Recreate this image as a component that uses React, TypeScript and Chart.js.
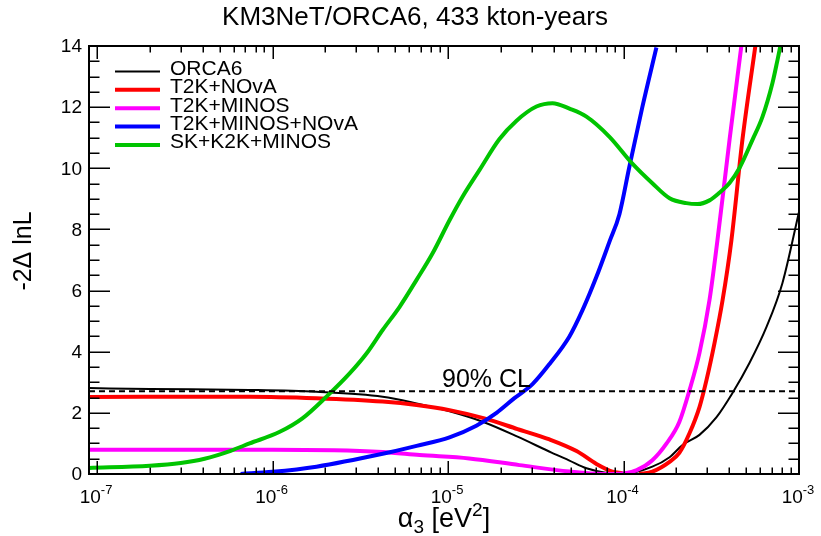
import React, { useEffect, useRef } from "react";
import { Chart, registerables } from "chart.js";
Chart.register(...registerables);

const FONT = '"Liberation Sans", Arial, Helvetica, sans-serif';

const TITLE = "KM3NeT/ORCA6, 433 kton-years";
const Y_TITLE = "-2\u0394 lnL";
const CL_LABEL = "90% CL";
const X_MIN = 9e-8;
const X_MAX = 1e-3;
const Y_MIN = 0;
const Y_MAX = 14;
const CL90 = 2.71;

const X_MAJOR_TICKS = [1e-7, 1e-6, 1e-5, 1e-4, 1e-3];
const X_TICK_EXPONENTS = ["-7", "-6", "-5", "-4", "-3"];
const X_MINOR_MULTIPLIERS = [2, 3, 4, 5, 6, 7, 8, 9];
const Y_MAJOR_TICKS = [0, 2, 4, 6, 8, 10, 12, 14];
const Y_TICK_LABELS = ["0", "2", "4", "6", "8", "10", "12", "14"];
const Y_MINOR_STEP = 0.5;

const SERIES_LABELS = ["ORCA6", "T2K+NOvA", "T2K+MINOS", "T2K+MINOS+NOvA", "SK+K2K+MINOS"];

const ORCA6_X = [9.0e-8, 2.0e-7, 7.4e-7, 1.78e-6, 4.24e-6, 6.62e-6, 1.02e-5, 1.59e-5, 2.49e-5, 3.89e-5, 4.92e-5, 6.15e-5, 8.32e-5, 1.0e-4, 1.46e-4, 1.83e-4, 2.17e-4, 2.71e-4, 3.39e-4, 4.18e-4, 5.22e-4, 6.53e-4, 8.05e-4, 1.0e-3];
const ORCA6_Y = [2.81, 2.78, 2.75, 2.69, 2.53, 2.31, 2.05, 1.70, 1.22, 0.70, 0.44, 0.19, 0.02, 0.0, 0.24, 0.55, 0.95, 1.28, 1.86, 2.65, 3.63, 4.81, 6.25, 8.57];

const T2K_NOVA_X = [9.0e-8, 7.4e-7, 1.78e-6, 4.24e-6, 6.62e-6, 1.02e-5, 1.61e-5, 2.49e-5, 3.79e-5, 5.4e-5, 7.01e-5, 8.65e-5, 9.86e-5, 1.1e-4, 1.23e-4, 1.46e-4, 1.83e-4, 2.08e-4, 2.38e-4, 2.71e-4, 2.97e-4, 3.3e-4, 3.67e-4, 4.12e-4, 4.76e-4, 5.65e-4];
const T2K_NOVA_Y = [2.52, 2.53, 2.48, 2.37, 2.26, 2.09, 1.82, 1.47, 1.13, 0.75, 0.33, 0.08, 0.03, null, 0.0, 0.08, 0.40, 0.69, 1.34, 2.19, 3.07, 4.28, 5.69, 7.65, 10.93, 14.03];

const T2K_MINOS_X = [9.0e-8, 1.0e-6, 4.24e-6, 6.89e-6, 1.32e-5, 2.55e-5, 4.92e-5, 7.58e-5, 8.89e-5, 1.19e-4, 1.46e-4, 1.76e-4, 2.08e-4, 2.38e-4, 2.71e-4, 3.09e-4, 3.43e-4, 4.02e-4, 4.7e-4];
const T2K_MINOS_Y = [0.79, 0.79, 0.72, 0.62, 0.51, 0.29, 0.08, 0.0, 0.0, 0.13, 0.45, 1.0, 1.7, 2.75, 3.96, 5.69, 7.65, 10.93, 14.03];

const T2K_MINOS_NOVA_X = [6.58e-7, 1.0e-6, 1.78e-6, 4.24e-6, 6.62e-6, 1.02e-5, 1.45e-5, 1.89e-5, 2.39e-5, 3.03e-5, 3.79e-5, 4.92e-5, 5.83e-5, 7.01e-5, 8.32e-5, 9.48e-5, 1.08e-4, 1.28e-4, 1.54e-4];
const T2K_MINOS_NOVA_Y = [0.0, 0.07, 0.24, 0.66, 0.92, 1.2, 1.58, 2.0, 2.48, 2.94, 3.6, 4.5, 5.35, 6.45, 7.6, 8.5, 10.05, 12.0, 13.95];

const SK_K2K_MINOS_X = [9.0e-8, 2.0e-7, 3.0e-7, 4.1e-7, 5.77e-7, 7.4e-7, 1.1e-6, 1.48e-6, 2.03e-6, 2.75e-6, 3.44e-6, 4.24e-6, 5.3e-6, 6.62e-6, 8.17e-6, 1.02e-5, 1.21e-5, 1.51e-5, 1.96e-5, 2.45e-5, 3.19e-5, 3.94e-5, 4.92e-5, 6.15e-5, 8.32e-5, 1.12e-4, 1.46e-4, 1.83e-4, 2.28e-4, 2.64e-4, 3.09e-4, 3.52e-4, 4.02e-4, 4.58e-4, 5.43e-4, 6.19e-4, 7.06e-4, 7.54e-4, 7.85e-4];
const SK_K2K_MINOS_Y = [0.20, 0.27, 0.36, 0.50, 0.76, 1.00, 1.38, 1.82, 2.53, 3.29, 3.95, 4.71, 5.47, 6.35, 7.22, 8.30, 9.07, 9.94, 10.95, 11.55, 12.02, 12.13, 11.95, 11.69, 11.03, 10.16, 9.51, 9.02, 8.86, 8.83, 8.95, 9.20, 9.52, 10.01, 10.93, 11.68, 12.79, 13.54, 14.03];

const SERIES_X = [ORCA6_X, T2K_NOVA_X, T2K_MINOS_X, T2K_MINOS_NOVA_X, SK_K2K_MINOS_X];
const SERIES_Y = [ORCA6_Y, T2K_NOVA_Y, T2K_MINOS_Y, T2K_MINOS_NOVA_Y, SK_K2K_MINOS_Y];
const SERIES_COLORS = ["#000000", "#ff0000", "#ff00ff", "#0000ff", "#00c400"];
const SERIES_WIDTHS = [2, 4, 4, 4, 4];

const rootStyle = {
  id: "rootStyle",
  afterDraw(chart: any) {
    const { ctx, chartArea: a, scales } = chart;
    const xs = scales.x;
    const ys = scales.y;
    ctx.save();

    // ticks
    ctx.strokeStyle = "#000";
    ctx.lineWidth = 1.5;
    ctx.beginPath();
    const xTick = (v: number, len: number) => {
      const px = Math.round(xs.getPixelForValue(v)) + 0.25;
      ctx.moveTo(px, a.bottom);
      ctx.lineTo(px, a.bottom - len);
      ctx.moveTo(px, a.top);
      ctx.lineTo(px, a.top + len);
    };
    X_MAJOR_TICKS.forEach((v, i) => {
      xTick(v, 13);
      if (i < X_MAJOR_TICKS.length - 1) {
        X_MINOR_MULTIPLIERS.forEach((m) => xTick(v * m, 6.5));
      }
    });
    for (let v = Y_MIN; v <= Y_MAX + 1e-9; v += Y_MINOR_STEP) {
      const major = Y_MAJOR_TICKS.includes(v);
      const len = major ? 21 : 10.5;
      const py = Math.round(ys.getPixelForValue(v)) + 0.25;
      ctx.moveTo(a.left, py);
      ctx.lineTo(a.left + len, py);
      ctx.moveTo(a.right, py);
      ctx.lineTo(a.right - len, py);
    }
    ctx.stroke();

    // frame
    ctx.lineWidth = 2;
    ctx.strokeRect(a.left, a.top, a.right - a.left, a.bottom - a.top);

    ctx.fillStyle = "#000";
    // y tick labels
    ctx.font = `19px ${FONT}`;
    ctx.textAlign = "right";
    ctx.textBaseline = "middle";
    Y_MAJOR_TICKS.forEach((v, i) => {
      ctx.fillText(Y_TICK_LABELS[i], a.left - 7, ys.getPixelForValue(v) + 1);
    });

    // x tick labels 10^n
    ctx.textAlign = "left";
    ctx.textBaseline = "alphabetic";
    X_MAJOR_TICKS.forEach((v, i) => {
      const px = xs.getPixelForValue(v);
      ctx.font = `19px ${FONT}`;
      const w1 = ctx.measureText("10").width;
      ctx.font = `13px ${FONT}`;
      const w2 = ctx.measureText(X_TICK_EXPONENTS[i]).width;
      const sx = px - (w1 + w2) / 2 - 1;
      ctx.font = `19px ${FONT}`;
      ctx.fillText("10", sx, a.bottom + 29);
      ctx.font = `13px ${FONT}`;
      ctx.fillText(X_TICK_EXPONENTS[i], sx + w1, a.bottom + 20);
    });

    // x title: alpha_3 [eV^2]
    {
      const big = `27px ${FONT}`;
      const small = `19px ${FONT}`;
      const parts: [string, string, number][] = [
        ["\u03b1", big, 0],
        ["3", small, 6],
        [" [eV", big, 0],
        ["2", small, -11],
        ["]", big, 0],
      ];
      let total = 0;
      parts.forEach(([t, f]) => {
        ctx.font = f;
        total += ctx.measureText(t).width;
      });
      let x = (a.left + a.right) / 2 - total / 2;
      const base = 527;
      parts.forEach(([t, f, dy]) => {
        ctx.font = f;
        ctx.fillText(t, x, base + dy);
        x += ctx.measureText(t).width;
      });
    }

    // y title
    ctx.save();
    ctx.translate(24, 251);
    ctx.rotate(-Math.PI / 2);
    ctx.font = `25px ${FONT}`;
    ctx.textAlign = "center";
    ctx.textBaseline = "middle";
    ctx.fillText(Y_TITLE, 0, 0);
    ctx.restore();

    // title
    ctx.font = `26px ${FONT}`;
    ctx.textAlign = "center";
    ctx.textBaseline = "alphabetic";
    ctx.fillText(TITLE, 415, 25);

    // 90% CL label
    ctx.font = `25px ${FONT}`;
    ctx.textAlign = "left";
    ctx.fillText(CL_LABEL, 442, 387);

    // legend
    ctx.font = `21px ${FONT}`;
    SERIES_LABELS.forEach((lab, i) => {
      const y = 71.5 + i * 18.35;
      ctx.strokeStyle = SERIES_COLORS[i];
      ctx.lineWidth = SERIES_WIDTHS[i];
      ctx.beginPath();
      ctx.moveTo(115, y);
      ctx.lineTo(160, y);
      ctx.stroke();
      ctx.fillStyle = "#000";
      ctx.fillText(lab, 170, y + 3.5);
    });

    ctx.restore();
  },
};

export default function App() {
  const ref = useRef<HTMLCanvasElement | null>(null);
  useEffect(() => {
    if (!ref.current) return;
    const datasets: any[] = SERIES_LABELS.map((label, i) => ({
      label,
      data: SERIES_X[i].map((x, j) => ({ x, y: SERIES_Y[i][j] })),
      borderColor: SERIES_COLORS[i],
      borderWidth: SERIES_WIDTHS[i],
      pointRadius: 0,
      fill: false,
      cubicInterpolationMode: "monotone",
      spanGaps: false,
      clip: 0,
      order: SERIES_LABELS.length - i,
    }));
    datasets.push({
      label: CL_LABEL,
      data: [
        { x: X_MIN, y: CL90 },
        { x: X_MAX, y: CL90 },
      ],
      borderColor: "#000",
      borderWidth: 2,
      borderDash: [6, 4],
      pointRadius: 0,
      fill: false,
      clip: 0,
      order: 0,
    });
    const chart = new Chart(ref.current, {
      type: "line",
      data: { datasets },
      options: {
        responsive: false,
        animation: false,
        events: [],
        layout: { padding: { left: 89, right: 22, top: 46, bottom: 62 } },
        plugins: {
          legend: { display: false },
          tooltip: { enabled: false },
          title: { display: false },
        },
        scales: {
          x: { type: "logarithmic", min: X_MIN, max: X_MAX, display: false },
          y: { type: "linear", min: Y_MIN, max: Y_MAX, display: false },
        },
      },
      plugins: [rootStyle],
    } as any);
    return () => chart.destroy();
  }, []);
  return (
    <div style={{ position: "absolute", left: 0, top: 0, width: 821, height: 536, background: "#fff" }}>
      <canvas ref={ref} width={821} height={536} style={{ display: "block" }} />
    </div>
  );
}
